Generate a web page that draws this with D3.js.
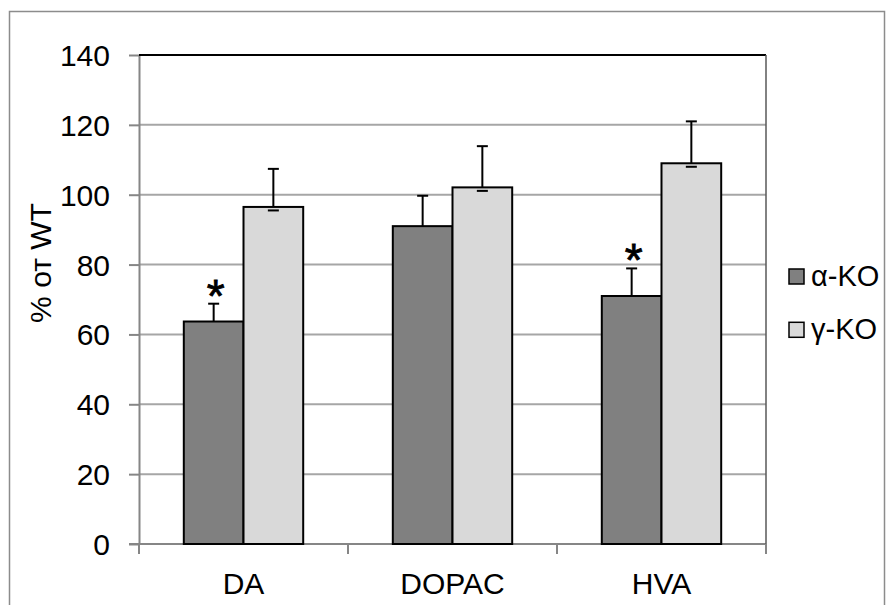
<!DOCTYPE html>
<html>
<head>
<meta charset="utf-8">
<script src="https://cdn.jsdelivr.net/npm/d3@7"></script>
<style>
  body { margin: 0; background: #fff; }
  svg text { font-family: "Liberation Sans", Arial, sans-serif; fill: #000; }
</style>
</head>
<body>
<div id="chart"></div>
<script>
// chart values
const categories = ["DA", "DOPAC", "HVA"];
const seriesNames = ["α-KO", "γ-KO"];
const alphaKO = [63.7, 91.0, 71.0];
const gammaKO = [96.5, 102.1, 109.0];
const alphaErr = [5.1, 8.7, 7.9];
const gammaErr = [10.9, 11.8, 12.0];
const alphaSig = [true, false, true];
const yTicks = [0, 20, 40, 60, 80, 100, 120, 140];

const seriesColors = ["#808080", "#d9d9d9"];

const W = 894, H = 605;
const margin = {top: 55, right: 128, bottom: 61, left: 139};
const width = W - margin.left - margin.right,
      height = H - margin.top - margin.bottom;

const svg = d3.select("#chart")
  .append("svg")
    .attr("width", W)
    .attr("height", H);

// outer chart frame
svg.append("rect")
  .attr("x", 9.5).attr("y", 11.5)
  .attr("width", 875).attr("height", 620)
  .attr("fill", "none")
  .attr("stroke", "#8c8c8c")
  .attr("stroke-width", 1.5);

const g = svg.append("g")
  .attr("transform", `translate(${margin.left},${margin.top})`);

// scales
const x0 = d3.scaleBand()
  .domain(categories)
  .range([0, width])
  .paddingInner(0.4287)
  .paddingOuter(0.2144);

const x1 = d3.scaleBand()
  .domain(seriesNames)
  .range([0, x0.bandwidth()])
  .padding(0);

const y = d3.scaleLinear()
  .domain([0, 140])
  .range([height, 0]);

// gridlines
g.append("g")
  .selectAll("line")
  .data(yTicks.filter(d => d > 0 && d < 140))
  .join("line")
    .attr("x1", 0).attr("x2", width)
    .attr("y1", d => y(d)).attr("y2", d => y(d))
    .attr("stroke", "#a6a6a6")
    .attr("stroke-width", 2);

// left axis
const yAxis = g.append("g")
  .call(d3.axisLeft(y).tickValues(yTicks).tickSize(10).tickPadding(19).tickSizeOuter(0));
yAxis.select(".domain").attr("stroke", "#868686").attr("stroke-width", 2);
yAxis.selectAll(".tick line").attr("stroke", "#868686").attr("stroke-width", 2);
yAxis.selectAll("text")
  .attr("font-size", 30)
  .attr("dy", "0.35em")
  .style("font-family", "'Liberation Sans', Arial, sans-serif");

// bottom axis: ticks at category boundaries
const step = x0.step();
const boundaries = d3.range(categories.length + 1).map(i => i * step);
g.append("line")
  .attr("x1", -10).attr("x2", width)
  .attr("y1", y(0)).attr("y2", y(0))
  .attr("stroke", "#868686").attr("stroke-width", 2);
g.append("g")
  .selectAll("line")
  .data(boundaries)
  .join("line")
    .attr("x1", d => d).attr("x2", d => d)
    .attr("y1", y(0)).attr("y2", y(0) + 10)
    .attr("stroke", "#868686").attr("stroke-width", 2);
g.append("g")
  .selectAll("text")
  .data(categories)
  .join("text")
    .attr("x", d => x0(d) + x0.bandwidth() / 2)
    .attr("y", y(0) + 50)
    .attr("text-anchor", "middle")
    .attr("font-size", 30)
    .text(d => d);

// plot area border (top and right)
g.append("line")
  .attr("x1", 0).attr("x2", width)
  .attr("y1", 0).attr("y2", 0)
  .attr("stroke", "#000").attr("stroke-width", 2);
g.append("line")
  .attr("x1", width).attr("x2", width)
  .attr("y1", 0).attr("y2", height)
  .attr("stroke", "#595959").attr("stroke-width", 1.5);

// build rows for bars
const rows = [];
categories.forEach((c, i) => {
  rows.push({cat: c, key: seriesNames[0], value: alphaKO[i], err: alphaErr[i], sig: alphaSig[i], color: seriesColors[0], lowCap: false});
  rows.push({cat: c, key: seriesNames[1], value: gammaKO[i], err: gammaErr[i], sig: false, color: seriesColors[1], lowCap: true});
});

// error bars first (bars drawn over the lower part)
const capW = 11;
const eb = g.append("g")
  .selectAll("g")
  .data(rows)
  .join("g")
    .attr("stroke", "#000")
    .attr("stroke-width", 2);
eb.append("line")
  .attr("x1", d => x0(d.cat) + x1(d.key) + x1.bandwidth() / 2)
  .attr("x2", d => x0(d.cat) + x1(d.key) + x1.bandwidth() / 2)
  .attr("y1", d => y(d.value))
  .attr("y2", d => y(d.value + d.err));

// the bars
g.append("g")
  .selectAll("rect")
  .data(rows)
  .join("rect")
    .attr("x", d => x0(d.cat) + x1(d.key))
    .attr("y", d => y(d.value))
    .attr("width", x1.bandwidth())
    .attr("height", d => y(0) - y(d.value))
    .attr("fill", d => d.color)
    .attr("stroke", "#000")
    .attr("stroke-width", 2);

// caps
const caps = g.append("g")
  .attr("stroke", "#000")
  .attr("stroke-width", 2);
caps.selectAll("line.top")
  .data(rows)
  .join("line")
    .attr("class", "top")
    .attr("x1", d => x0(d.cat) + x1(d.key) + x1.bandwidth() / 2 - capW / 2)
    .attr("x2", d => x0(d.cat) + x1(d.key) + x1.bandwidth() / 2 + capW / 2)
    .attr("y1", d => y(d.value + d.err))
    .attr("y2", d => y(d.value + d.err));
caps.selectAll("line.low")
  .data(rows.filter(d => d.lowCap))
  .join("line")
    .attr("class", "low")
    .attr("x1", d => x0(d.cat) + x1(d.key) + x1.bandwidth() / 2 - capW / 2)
    .attr("x2", d => x0(d.cat) + x1(d.key) + x1.bandwidth() / 2 + capW / 2)
    .attr("y1", d => y(d.value) + 3.5)
    .attr("y2", d => y(d.value) + 3.5);

// significance asterisks
g.append("g")
  .selectAll("text")
  .data(rows.filter(d => d.sig))
  .join("text")
    .attr("x", d => x0(d.cat) + x1(d.key) + x1.bandwidth() / 2 + 2)
    .attr("y", d => y(d.value + d.err) + 8)
    .attr("text-anchor", "middle")
    .attr("font-size", 46)
    .style("stroke", "#000")
    .style("stroke-width", 0.8)
    .text("*");

// legend
const legend = svg.append("g")
  .attr("transform", "translate(789,269)");
const li = legend.selectAll("g")
  .data(seriesNames)
  .join("g")
    .attr("transform", (d, i) => `translate(0,${i * 53.3})`);
li.append("rect")
  .attr("width", 15).attr("height", 15)
  .attr("fill", (d, i) => seriesColors[i])
  .attr("stroke", "#000")
  .attr("stroke-width", 1.5);
li.append("text")
  .attr("x", 22)
  .attr("y", 17)
  .attr("font-size", 29)
  .text(d => d);

// y axis title
svg.append("text")
  .attr("transform", "translate(51,263) rotate(-90)")
  .attr("text-anchor", "middle")
  .attr("font-size", 30)
  .text("% от WT");
</script>
</body>
</html>
